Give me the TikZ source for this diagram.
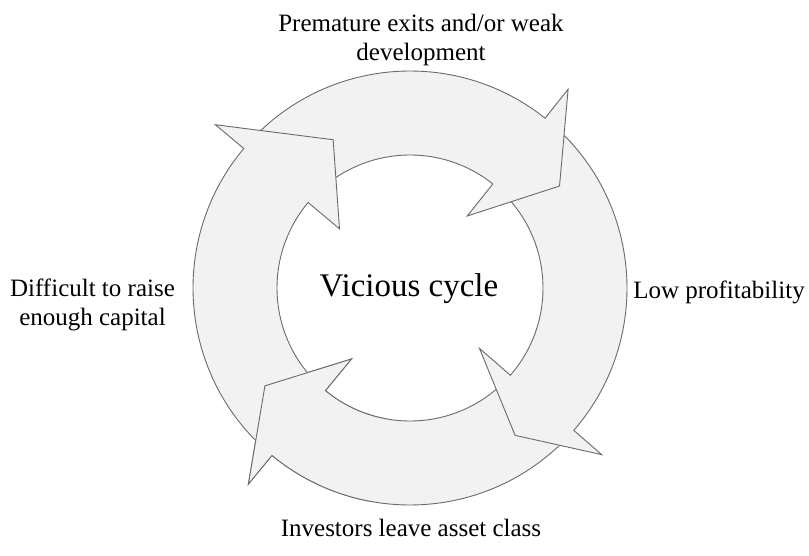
\documentclass[tikz,border=0pt]{standalone}
\usepackage{fontspec}
\setmainfont{Liberation Serif}
\definecolor{ringfill}{HTML}{F2F2F2}
\definecolor{ringline}{HTML}{6A6A6A}
\tikzset{
  ringarrow/.style={fill=ringfill, draw=ringline, line width=0.9pt, line join=miter},
  cyclelabel/.style={font=\fontsize{25}{28.5}\selectfont, align=center, inner sep=0pt},
  cycletitle/.style={font=\fontsize{33}{38}\selectfont, inner sep=0pt},
}
% One curved arrow of the ring:
% #1 tail angle, #2 angle of the head's base, #3 tip angle, #4 tip radius
\newcommand\cyclearrow[4]{%
  \path[ringarrow] (#1:217) arc[start angle=#1, end angle=#2, radius=217]
    -- (#2:254) -- (#3:#4) -- (#2:92) -- (#2:133)
    arc[start angle=#2, end angle=#1, radius=133] -- cycle;}
\begin{document}
\begin{tikzpicture}[x=1pt, y=1pt]
\useasboundingbox (0,0) rectangle (809,555);

\begin{scope}[shift={(410,267)}]
  % each head lies over the tail of the next arrow
  \cyclearrow{-45}{-129.5}{-146}{175}
  \cyclearrow{47.5}{-41}{-54.5}{181}
  \cyclearrow{136}{51.5}{34.3}{181}
  \cyclearrow{226.5}{140}{117.4}{167}
  % bring the lower-left head back over the tail of the left arrow
  \begin{scope}
    \clip (0,0) -- (-100:330) arc[start angle=-100, end angle=-175, radius=330] -- cycle;
    \cyclearrow{-45}{-129.5}{-146}{175}
  \end{scope}
\end{scope}

\node[cycletitle, anchor=base] (title) at (409,258.3) {Vicious cycle};
\node[cyclelabel] (exits) at (421,515) {Premature exits and/or weak\\development};
\node[cyclelabel, anchor=base] (profit) at (719,256.7) {Low profitability};
\node[cyclelabel, anchor=base] (investors) at (411,19) {Investors leave asset class};
\node[cyclelabel] (capital) at (92.5,249.9) {Difficult to raise\\enough capital};
\end{tikzpicture}
\end{document}
